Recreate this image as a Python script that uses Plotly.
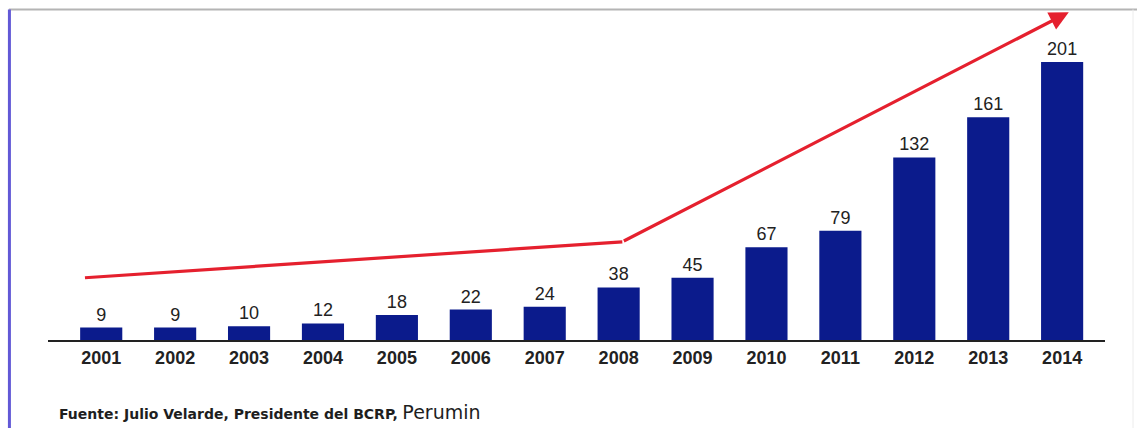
import plotly.graph_objects as go

# Annual values by year
years = [2001, 2002, 2003, 2004, 2005, 2006, 2007, 2008, 2009, 2010, 2011, 2012, 2013, 2014]
values = [9, 9, 10, 12, 18, 22, 24, 38, 45, 67, 79, 132, 161, 201]

# Trend arrow path (year, value) drawn over the bars
trend_x = [2000.78, 2008.05, 2014.09]
trend_y = [45, 71, 237]

source_bold = "Fuente: Julio Velarde, Presidente del BCRP,"
source_plain = "Perumin"

BAR_COLOR = "#0b1b8c"
ARROW_COLOR = "#e5202e"
FONT = "Liberation Sans, Arial, sans-serif"
WIDE_FONT = "DejaVu Sans, Verdana, sans-serif"

fig = go.Figure()

fig.add_trace(go.Bar(
    x=years,
    y=values,
    width=0.57,
    marker=dict(color=BAR_COLOR, line=dict(width=0)),
    text=[str(v) for v in values],
    textposition="outside",
    textfont=dict(family=FONT, size=18, color="#222222"),
    cliponaxis=False,
    hoverinfo="x+y",
))

# First segment of the trend line
fig.add_trace(go.Scatter(
    x=trend_x[:2],
    y=trend_y[:2],
    mode="lines",
    line=dict(color=ARROW_COLOR, width=3.2),
    cliponaxis=False,
    hoverinfo="skip",
))

# Steeper segment ending in an arrowhead
fig.add_annotation(
    x=trend_x[2], y=trend_y[2], xref="x", yref="y",
    ax=trend_x[1], ay=trend_y[1], axref="x", ayref="y",
    showarrow=True, arrowhead=2, arrowsize=1.2, arrowwidth=3.2,
    arrowcolor=ARROW_COLOR, standoff=0, startstandoff=0, text="",
)

# Source note
fig.add_annotation(
    x=0.0085, y=-0.218, xref="paper", yref="paper",
    xanchor="left", yanchor="middle", showarrow=False,
    text=f"<b>{source_bold}</b> <span style='font-size:19px'>{source_plain}</span>",
    font=dict(family=WIDE_FONT, size=14, color="#1e1e1e"),
)

# Frame lines: top grey rule, left blue rule and faint right edge
fig.add_shape(type="line", xref="paper", yref="paper",
              x0=-0.037, x1=1.04, y0=1.0015, y1=1.0015,
              line=dict(color="#b4b4b4", width=2))
fig.add_shape(type="line", xref="paper", yref="paper",
              x0=-0.0365, x1=-0.0365, y0=1.0015, y1=-0.27,
              line=dict(color="#6259d6", width=3))
fig.add_shape(type="line", xref="paper", yref="paper",
              x0=1.0265, x1=1.0265, y0=1.0015, y1=-0.27,
              line=dict(color="#ececec", width=1))

fig.update_layout(
    width=1137, height=428,
    margin=dict(l=48, r=32, t=10, b=88),
    paper_bgcolor="white", plot_bgcolor="white",
    showlegend=False,
    bargap=0.43,
    font=dict(family=FONT),
)

fig.update_xaxes(
    range=[2000.28, 2014.58],
    tickmode="array", tickvals=years, ticktext=[f"<b>{y}</b>" for y in years],
    tickfont=dict(family=FONT, size=18, color="#222222"),
    showline=True, linecolor="#222222", linewidth=2,
    showgrid=False, zeroline=False, ticks="",
)
fig.update_yaxes(
    range=[0, 238.6], visible=False, showgrid=False, zeroline=False,
)

fig.write_html("out.html")
